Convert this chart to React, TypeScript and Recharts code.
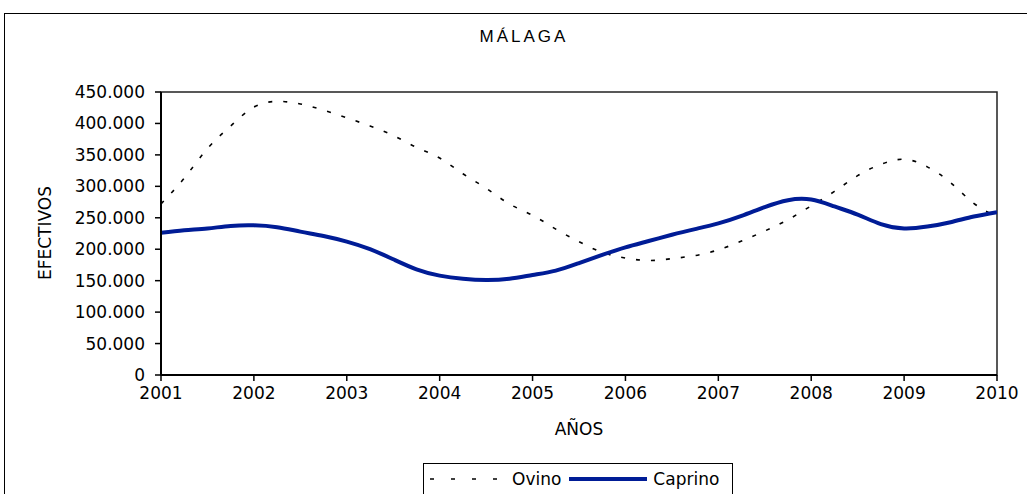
import React from "react";
import { LineChart, Line, XAxis, YAxis, ReferenceArea } from "recharts";

const FONT = "'DejaVu Sans', Verdana, sans-serif";
const BLUE = "#001c96";

// quarterly points, 2001 .. 2010
const years = [
  2001, 2001.25, 2001.5, 2001.75, 2002, 2002.25, 2002.5, 2002.75, 2003, 2003.25, 2003.5, 2003.75,
  2004, 2004.25, 2004.5, 2004.75, 2005, 2005.25, 2005.5, 2005.75, 2006, 2006.25, 2006.5, 2006.75,
  2007, 2007.25, 2007.5, 2007.75, 2008, 2008.25, 2008.5, 2008.75, 2009, 2009.25, 2009.5, 2009.75, 2010,
];
const ovino = [
  272000, 313000, 360000, 396000, 426000, 435000, 431000, 421000, 409000, 396000, 381000, 362000,
  345000, 320000, 297000, 272000, 254000, 232000, 212000, 195000, 186000, 182000, 185000, 190000,
  199000, 213000, 229000, 247000, 269000, 292000, 317000, 335000, 343000, 331000, 306000, 273000, 252000,
];
const caprino = [
  226000, 230000, 233000, 237000, 238000, 235000, 228000, 221000, 212000, 200000, 184000, 168000,
  158000, 153000, 151000, 153000, 159000, 166000, 178000, 191000, 203000, 213000, 223000, 232000,
  241000, 253000, 267000, 278000, 279000, 268000, 255000, 240000, 233000, 236000, 243000, 252000, 259000,
];
const xTicks = [2001, 2002, 2003, 2004, 2005, 2006, 2007, 2008, 2009, 2010];
const yTicks = [0, 50000, 100000, 150000, 200000, 250000, 300000, 350000, 400000, 450000];

const data = years.map((y, i) => ({ year: y, ovino: ovino[i], caprino: caprino[i] }));

const fmt = (v: number) => String(v).replace(/\B(?=(\d{3})+(?!\d))/g, ".");

const txt: React.CSSProperties = { position: "absolute", fontFamily: FONT, fontSize: 17, color: "#000", whiteSpace: "nowrap" };

function LegendBox() {
  return (
    <div
      style={{
        position: "absolute",
        left: 423,
        top: 463,
        width: 310,
        height: 40,
        border: "1.5px solid #000",
        display: "flex",
        alignItems: "flex-start",
        paddingTop: 5,
        boxSizing: "border-box",
        fontFamily: FONT,
        fontSize: 17,
        color: "#000",
        background: "#fff",
      }}
    >
      <svg width={82} height={20} style={{ marginLeft: 6 }}>
        <line x1={0} y1={10} x2={76} y2={10} stroke="#000" strokeWidth={1.5} strokeDasharray="4 17" />
      </svg>
      <span style={{ lineHeight: "20px" }}>Ovino</span>
      <svg width={86} height={20} style={{ marginLeft: 6 }}>
        <line x1={2} y1={10} x2={80} y2={10} stroke={BLUE} strokeWidth={4} />
      </svg>
      <span style={{ lineHeight: "20px" }}>Caprino</span>
    </div>
  );
}

export default function App() {
  return (
    <div style={{ position: "absolute", left: 0, top: 0, width: 1027, height: 494, overflow: "hidden", background: "#fff" }}>
      <div
        style={{
          position: "absolute",
          left: 4,
          top: 13,
          width: 1060,
          height: 520,
          border: "1.5px solid #000",
          boxSizing: "border-box",
        }}
      />
      <div style={{ ...txt, left: 0, width: 1048, top: 27, textAlign: "center", fontFamily: "'Liberation Sans', Arial, sans-serif", letterSpacing: 3 }}>
        MÁLAGA
      </div>
      <div style={{ ...txt, left: 45, top: 233, transform: "translate(-50%, -50%) rotate(-90deg)" }}>EFECTIVOS</div>
      <div style={{ ...txt, left: 579, top: 419, transform: "translateX(-50%)" }}>AÑOS</div>
      <div style={{ position: "absolute", left: 0, top: 0 }}>
        <LineChart width={1027} height={494} data={data} margin={{ top: 92, right: 30, bottom: 89, left: 81 }}>
          <ReferenceArea x1={2001} x2={2010} y1={0} y2={450000} fill="none" stroke="#222" strokeWidth={1.5} />
          <XAxis
            dataKey="year"
            type="number"
            domain={[2001, 2010]}
            ticks={xTicks}
            height={30}
            tickSize={6}
            tickMargin={6}
            axisLine={{ stroke: "#000", strokeWidth: 2 }}
            tickLine={{ stroke: "#000", strokeWidth: 1.5 }}
            tick={{ fill: "#000", fontSize: 17, fontFamily: FONT }}
            allowDataOverflow
          />
          <YAxis
            type="number"
            domain={[0, 450000]}
            ticks={yTicks}
            width={80}
            tickSize={6}
            tickMargin={10}
            tickFormatter={fmt}
            axisLine={{ stroke: "#000", strokeWidth: 2 }}
            tickLine={{ stroke: "#000", strokeWidth: 1.5 }}
            tick={{ fill: "#000", fontSize: 17, fontFamily: FONT }}
            allowDataOverflow
          />
          <Line
            dataKey="ovino"
            name="Ovino"
            type="natural"
            stroke="#000"
            strokeWidth={1.6}
            strokeDasharray="4 11"
            dot={false}
            isAnimationActive={false}
          />
          <Line
            dataKey="caprino"
            name="Caprino"
            type="natural"
            stroke={BLUE}
            strokeWidth={4}
            dot={false}
            isAnimationActive={false}
          />
        </LineChart>
      </div>
      <LegendBox />
    </div>
  );
}
